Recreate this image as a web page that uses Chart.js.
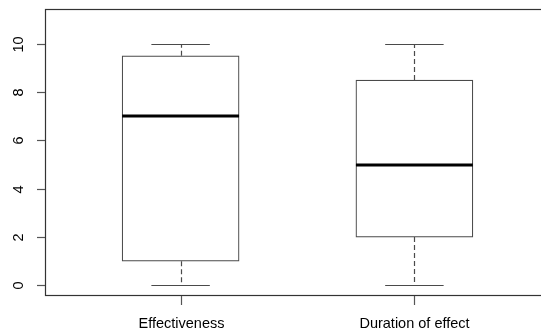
<!DOCTYPE html>
<html>
<head>
<meta charset="utf-8">
<script src="https://cdn.jsdelivr.net/npm/chart.js@4.4.1/dist/chart.umd.min.js"></script>
<style>
  html { margin: 0; padding: 0; overflow: hidden; background: #fff; }
  body { margin: 0; padding: 0; background: #fff; width: 551px; height: 333px; }
  #wrap { width: 551px; height: 333px; }
  canvas { display: block; width: 551px; height: 333px; }
</style>
</head>
<body>
<div id="wrap"><canvas id="c" width="551" height="333"></canvas></div>
<script>
// Five-number summaries for each rating
const categories = ['Effectiveness', 'Duration of effect'];
const minValues = [0, 0];
const q1Values = [1, 2];
const medianValues = [7, 5];
const q3Values = [9.5, 8.5];
const maxValues = [10, 10];
const yTicks = [0, 2, 4, 6, 8, 10];

const positions = categories.map((_, i) => i + 1);
const FONT = '14.5px "Liberation Sans", Arial, sans-serif';
const LINE = '#4a4a4a';

// Whiskers, caps, medians, frame, axes ticks and labels, drawn through the chart scales
const boxplotExtras = {
  id: 'boxplotExtras',
  afterDatasetsDraw(chart) {
    const { ctx, chartArea: a, scales: { x, y } } = chart;
    ctx.save();

    positions.forEach((p, i) => {
      const cx = Math.round(x.getPixelForValue(p)) + 0.5;
      const capL = x.getPixelForValue(p - 0.125);
      const capR = x.getPixelForValue(p + 0.125);
      const boxL = x.getPixelForValue(p - 0.25);
      const boxR = x.getPixelForValue(p + 0.25);
      const yMin = Math.round(y.getPixelForValue(minValues[i])) + 0.5;
      const yMax = Math.round(y.getPixelForValue(maxValues[i])) + 0.5;
      const yQ1 = y.getPixelForValue(q1Values[i]);
      const yQ3 = y.getPixelForValue(q3Values[i]);
      const yMed = Math.round(y.getPixelForValue(medianValues[i]));

      // dashed whiskers
      ctx.strokeStyle = LINE;
      ctx.lineWidth = 1.2;
      ctx.setLineDash([5, 3]);
      ctx.beginPath();
      ctx.moveTo(cx, yQ3); ctx.lineTo(cx, yMax);
      ctx.moveTo(cx, yQ1); ctx.lineTo(cx, yMin);
      ctx.stroke();

      // whisker caps
      ctx.setLineDash([]);
      ctx.beginPath();
      ctx.moveTo(capL, yMax); ctx.lineTo(capR, yMax);
      ctx.moveTo(capL, yMin); ctx.lineTo(capR, yMin);
      ctx.stroke();

      // median
      ctx.strokeStyle = '#000';
      ctx.lineWidth = 3;
      ctx.beginPath();
      ctx.moveTo(boxL, yMed); ctx.lineTo(boxR, yMed);
      ctx.stroke();
    });

    // plot frame
    ctx.strokeStyle = '#333';
    ctx.lineWidth = 1.2;
    ctx.strokeRect(a.left + 0.5, a.top + 0.5, a.right - a.left - 1, a.bottom - a.top - 1);

    // y axis ticks and rotated labels
    ctx.strokeStyle = '#555';
    ctx.fillStyle = '#000';
    ctx.font = FONT;
    ctx.textAlign = 'center';
    ctx.textBaseline = 'middle';
    yTicks.forEach(v => {
      const py = Math.round(y.getPixelForValue(v)) + 0.5;
      ctx.beginPath();
      ctx.moveTo(a.left - 8, py); ctx.lineTo(a.left, py);
      ctx.stroke();
      ctx.save();
      ctx.translate(19, py);
      ctx.rotate(-Math.PI / 2);
      ctx.fillText(String(v), 0, 0);
      ctx.restore();
    });

    // x axis ticks and category labels
    positions.forEach((p, i) => {
      const px = Math.round(x.getPixelForValue(p)) + 0.5;
      ctx.beginPath();
      ctx.moveTo(px, a.bottom); ctx.lineTo(px, a.bottom + 9);
      ctx.stroke();
      ctx.fillText(categories[i], px, a.bottom + 28);
    });

    ctx.restore();
  }
};

new Chart(document.getElementById('c'), {
  type: 'bar',
  data: {
    datasets: [{
      data: positions.map((p, i) => ({ x: p, y: [q1Values[i], q3Values[i]] })),
      backgroundColor: '#ffffff',
      borderColor: LINE,
      borderWidth: 1.2,
      borderSkipped: false,
      barThickness: 117
    }]
  },
  options: {
    responsive: false,
    maintainAspectRatio: false,
    animation: false,
    events: [],
    layout: { padding: { top: 9, right: 1, left: 0, bottom: 0 } },
    plugins: { legend: { display: false }, tooltip: { enabled: false } },
    scales: {
      x: {
        type: 'linear',
        offset: false,
        min: 0.42,
        max: 2.58,
        ticks: { display: false },
        grid: { display: false, offset: false },
        border: { display: false },
        afterFit(scale) { scale.height = 37; }
      },
      y: {
        type: 'linear',
        min: -0.44,
        max: 11.44,
        ticks: { display: false },
        grid: { display: false },
        border: { display: false },
        afterFit(scale) { scale.width = 45; }
      }
    }
  },
  plugins: [boxplotExtras]
});
</script>
</body>
</html>
